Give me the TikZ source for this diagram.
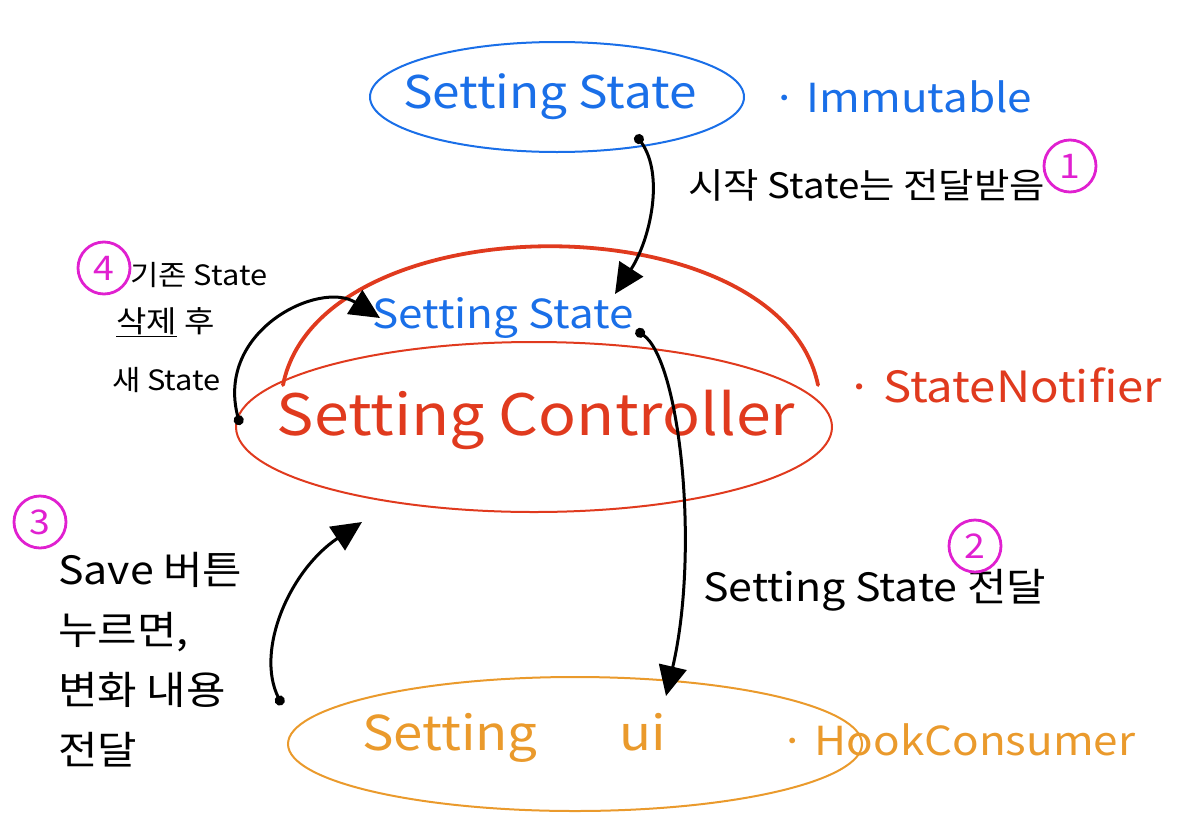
\documentclass[tikz,border=0pt]{standalone}
\usepackage{fontspec}
\setmainfont[FakeStretch=1.1]{Noto Sans CJK KR}
\usetikzlibrary{shapes.geometric,arrows.meta}
\definecolor{hblue}{HTML}{1A6FE8}
\definecolor{hred}{HTML}{E03A1E}
\definecolor{horange}{HTML}{EA9A2C}
\definecolor{hmag}{HTML}{E020D0}
\tikzset{
  ell/.style={draw,ellipse,line width=2pt,inner sep=0pt},
  lbl/.style={inner sep=0pt,anchor=west},
  num/.style={draw=hmag,text=hmag,circle,line width=2.8pt,minimum size=52pt,inner sep=0pt,font=\fontsize{34}{34}\selectfont},
  flow/.style={line width=3pt,{Circle[length=10pt]}-{Triangle[length=30pt,width=28pt]}}
}
\begin{document}
\begin{tikzpicture}[x=1pt,y=-1pt]
\useasboundingbox (0,0) rectangle (1190,830);
% ellipses
\node[ell,draw=hblue,minimum width=374pt,minimum height=110pt] (es) at (557,97) {};
\node[ell,draw=hred,minimum width=596pt,minimum height=170pt] (ec) at (534,427) {};
\node[ell,draw=horange,minimum width=574pt,minimum height=134pt] (eu) at (575,744) {};
% dome
\coordinate (dl) at (283,385);
\coordinate (dr) at (818,385);
\draw[hred,line width=3.8pt,line cap=round] (dl) .. controls (320,200) and (780,200) .. (dr);
% texts in ellipses
\node[text=hblue,font=\fontsize{45}{45}\selectfont] (ts) at (550,97) {Setting State};
\node[text=hblue,font=\fontsize{40}{40}\selectfont] (tm) at (503,318) {Setting State};
\node[text=hred,font=\fontsize{57}{57}\selectfont] (tc) at (536,420) {Setting Controller};
\node[text=horange,font=\fontsize{48}{48}\selectfont] (tu) at (514,738) {Setting\hspace{1.7em}ui};
% side labels
\node[lbl,text=hblue,font=\fontsize{40}{40}\selectfont] (li) at (772,97) {· Immutable};
\node[lbl,text=hred,font=\fontsize{43}{43}\selectfont] (ln) at (846,385) {· StateNotifier};
\node[lbl,text=horange,font=\fontsize{40}{40}\selectfont] (lh) at (780,740) {· HookConsumer};
% annotations
\node[lbl,font=\fontsize{35}{35}\selectfont] (a1) at (688,185) {시작 State는 전달받음};
\node[num] (n1) at (1070,166) {1};
\node[lbl,font=\fontsize{39}{39}\selectfont] (a2) at (703,590) {Setting State 전달};
\node[num] (n2) at (975,546) {2};
\node[num] (n3) at (40,522) {3};
\node[lbl,font=\fontsize{39}{60}\selectfont,align=left] (a3) at (58,660) {Save 버튼\\누르면,\\변화 내용\\전달};
\node[num] (n4) at (104,268) {4};
\node[lbl,font=\fontsize{28}{28}\selectfont] (a4a) at (130,275) {기존 State};
\node[lbl,font=\fontsize{30}{30}\selectfont] (a4b) at (116,322) {\underline{삭제} 후};
\node[lbl,font=\fontsize{28}{28}\selectfont] (a4c) at (112,380) {새 State};
% arrow anchor points
\coordinate (p1s) at (636,135);
\coordinate (p1e) at (615,294);
\coordinate (p2s) at (636,330);
\coordinate (p2e) at (666,696);
\coordinate (p3s) at (282,705);
\coordinate (p3e) at (362,522);
\coordinate (p4s) at (240,425);
\coordinate (p4e) at (380,318);
\draw[flow] (p1s) .. controls (665,175) and (650,240) .. (p1e);
\draw[flow] (p2s) .. controls (680,360) and (700,550) .. (p2e);
\draw[flow] (p3s) .. controls (255,650) and (290,570) .. (p3e);
\draw[flow] (p4s) .. controls (215,330) and (320,280) .. (p4e);
\end{tikzpicture}
\end{document}
